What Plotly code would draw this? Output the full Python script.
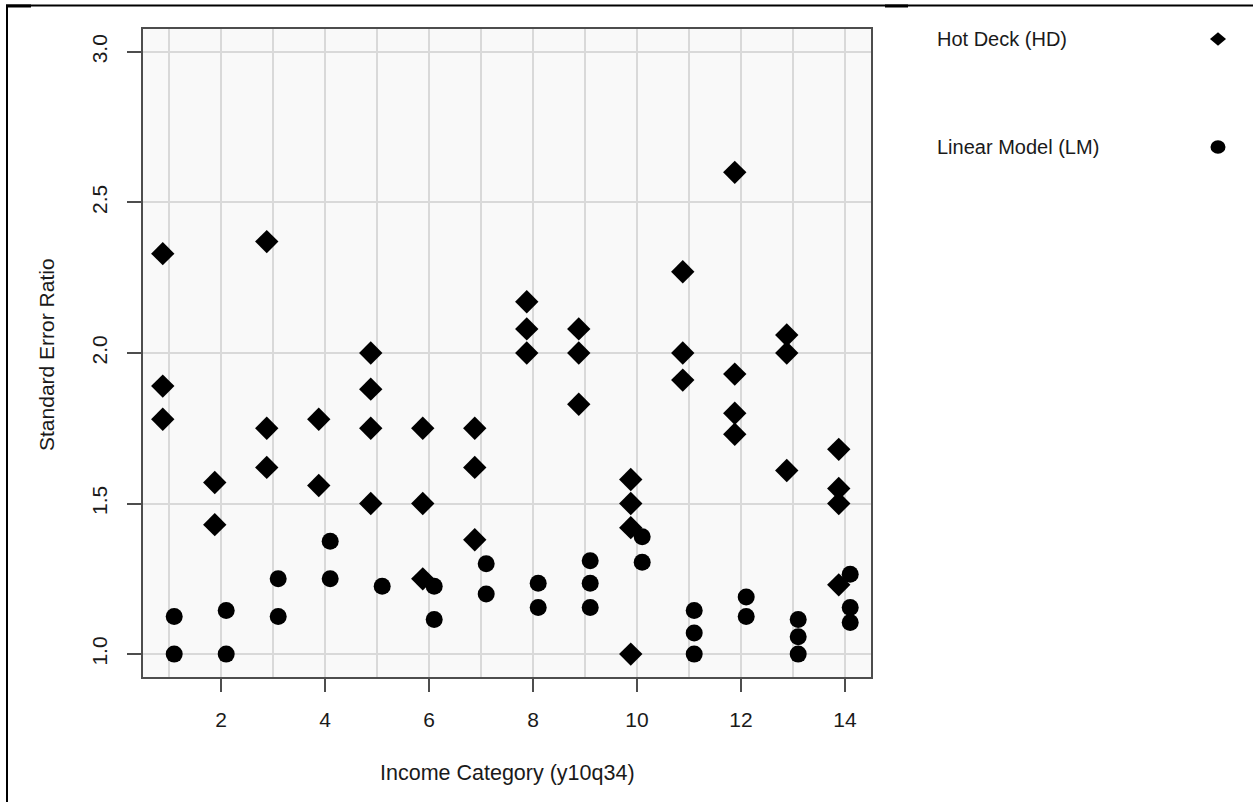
import plotly.graph_objects as go

# ---- data ----
hd_cat = [1, 1, 1, 2, 2, 3, 3, 3, 4, 4, 5, 5, 5, 5, 6, 6, 6, 7, 7, 7,
          8, 8, 8, 9, 9, 9, 10, 10, 10, 10, 11, 11, 11, 12, 12, 12, 12,
          13, 13, 13, 14, 14, 14, 14]
hd_val = [2.33, 1.89, 1.78, 1.57, 1.43, 2.37, 1.75, 1.62, 1.78, 1.56,
          2.00, 1.88, 1.75, 1.50, 1.75, 1.50, 1.25, 1.75, 1.62, 1.38,
          2.17, 2.08, 2.00, 2.08, 2.00, 1.83, 1.58, 1.50, 1.42, 1.00,
          2.27, 2.00, 1.91, 2.60, 1.93, 1.80, 1.73, 2.06, 2.00, 1.61,
          1.68, 1.55, 1.50, 1.23]

lm_cat = [1, 1, 2, 2, 3, 3, 4, 4, 5, 6, 6, 7, 7, 8, 8, 9, 9, 9, 10, 10,
          11, 11, 11, 12, 12, 13, 13, 13, 14, 14, 14]
lm_val = [1.125, 1.00, 1.145, 1.00, 1.25, 1.125, 1.375, 1.25, 1.225,
          1.225, 1.115, 1.30, 1.20, 1.235, 1.155, 1.31, 1.235, 1.155,
          1.39, 1.305, 1.145, 1.07, 1.00, 1.19, 1.125, 1.115, 1.058, 1.00,
          1.265, 1.155, 1.105]

x_ticks = [2, 4, 6, 8, 10, 12, 14]
y_ticks = [1.0, 1.5, 2.0, 2.5, 3.0]
series_names = ["Hot Deck (HD)", "Linear Model (LM)"]
x_title = "Income Category (y10q34)"
y_title = "Standard Error Ratio"

# ---- layout geometry ----
W, H = 1253, 802
L, R, T, B = 143, 871, 29, 677


def px(x):
    return (x - L) / (R - L)


def py(y):
    return (B - y) / (B - T)


FONT = "Liberation Sans, Arial, sans-serif"
TXT = "#1a1a1a"

fig = go.Figure()
fig.add_trace(go.Scatter(
    x=[c - 0.12 for c in hd_cat], y=hd_val, mode="markers",
    name=series_names[0],
    marker=dict(symbol="diamond", size=18, color="black", line=dict(width=0)),
))
fig.add_trace(go.Scatter(
    x=[c + 0.1 for c in lm_cat], y=lm_val, mode="markers",
    name=series_names[1],
    marker=dict(symbol="circle", size=17, color="black", line=dict(width=0)),
))

axis_common = dict(
    showline=True, mirror=True, linecolor="#4d4d4d", linewidth=2,
    ticks="outside", tickcolor="#4d4d4d", tickwidth=2,
    gridcolor="#d9d9d9", gridwidth=1.5, zeroline=False,
    tickfont=dict(family=FONT, size=21, color=TXT),
)

fig.update_xaxes(
    range=[0.5, 14.5], tickvals=x_ticks, ticklen=13,
    showgrid=False, ticklabelstandoff=10,
    minor=dict(dtick=1, tick0=0, showgrid=True, gridcolor="#d9d9d9",
               gridwidth=1.5, ticklen=0),
    **axis_common,
)
fig.update_yaxes(
    range=[0.924, 3.076], tickvals=y_ticks, tickformat=".1f", ticklen=14,
    tickangle=-90, showgrid=True, ticklabelstandoff=12,
    **axis_common,
)

shapes = []
# outer frame lines (top and left)
shapes.append(dict(type="line", xref="paper", yref="paper",
                   x0=px(6), x1=px(1253), y0=py(5.5), y1=py(5.5),
                   line=dict(color="black", width=2)))
shapes.append(dict(type="line", xref="paper", yref="paper",
                   x0=px(7), x1=px(7), y0=py(5), y1=py(802),
                   line=dict(color="black", width=2)))
shapes.append(dict(type="line", xref="paper", yref="paper",
                   x0=px(6), x1=px(31), y0=py(6), y1=py(6),
                   line=dict(color="black", width=3)))
shapes.append(dict(type="line", xref="paper", yref="paper",
                   x0=px(885), x1=px(908), y0=py(6), y1=py(6),
                   line=dict(color="black", width=3)))

# legend symbols (drawn to the right of the labels)
cx, cy, r = 1218, 39, 8
shapes.append(dict(
    type="path", xref="paper", yref="paper",
    path=(f"M {px(cx - r)} {py(cy)} L {px(cx)} {py(cy - r * 0.85)} "
          f"L {px(cx + r)} {py(cy)} L {px(cx)} {py(cy + r * 0.85)} Z"),
    fillcolor="black", line=dict(width=0)))
cx, cy, r = 1218, 147, 7.5
shapes.append(dict(type="circle", xref="paper", yref="paper",
                   x0=px(cx - r), x1=px(cx + r), y0=py(cy + r * 0.9), y1=py(cy - r * 0.9),
                   fillcolor="black", line=dict(width=0)))

annotations = [
    dict(text=series_names[0], xref="paper", yref="paper", x=px(935), y=py(39),
         xanchor="left", yanchor="middle", showarrow=False,
         font=dict(family=FONT, size=20, color=TXT)),
    dict(text=series_names[1], xref="paper", yref="paper", x=px(935), y=py(147),
         xanchor="left", yanchor="middle", showarrow=False,
         font=dict(family=FONT, size=20, color=TXT)),
    dict(text=x_title, xref="paper", yref="paper", x=0.5, y=py(773),
         xanchor="center", yanchor="middle", showarrow=False,
         font=dict(family=FONT, size=21.5, color=TXT)),
    dict(text=y_title, xref="paper", yref="paper", x=px(46), y=py(355),
         xanchor="center", yanchor="middle", showarrow=False, textangle=-90,
         font=dict(family=FONT, size=21, color=TXT)),
]

fig.update_layout(
    width=W, height=H,
    margin=dict(l=L, r=W - R, t=T, b=H - B, pad=0),
    paper_bgcolor="white", plot_bgcolor="#f9f9f9",
    showlegend=False,
    shapes=shapes, annotations=annotations,
    font=dict(family=FONT, color=TXT),
)

fig.write_html("out.html")
